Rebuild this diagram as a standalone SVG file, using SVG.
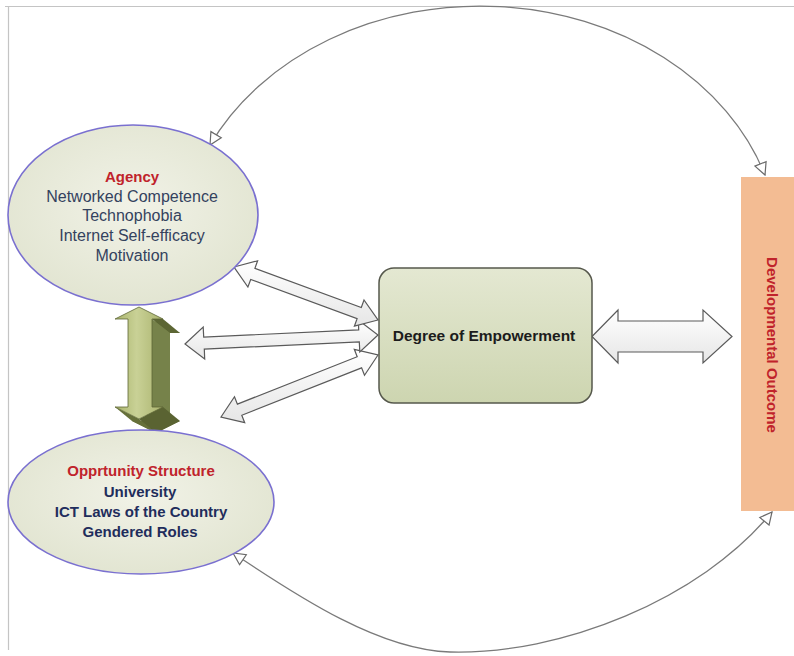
<svg xmlns="http://www.w3.org/2000/svg" width="794" height="656" viewBox="0 0 794 656">
<defs>
<style>
.ell{fill:url(#ellG);stroke:#7a70d0;stroke-width:1.6}
.wa{fill:url(#waG);stroke:#5a5a5a;stroke-width:1.2;stroke-linejoin:miter}
.arc{fill:none;stroke:#7a7a7a;stroke-width:1.3;marker-start:url(#hd);marker-end:url(#hd)}
.t{font-family:"Liberation Sans",Arial,sans-serif;text-anchor:middle}
.red{fill:#c0232b;font-weight:bold}
.ag{fill:#34425e;font-size:16px}
.op{fill:#1f2d5c;font-size:15px;font-weight:bold}
</style>
<radialGradient id="ellG" cx="50%" cy="45%" r="60%">
<stop offset="0" stop-color="#f1f2e7"/>
<stop offset="1" stop-color="#e1e4d0"/>
</radialGradient>
<linearGradient id="boxG" x1="0" y1="0" x2="0" y2="1">
<stop offset="0" stop-color="#e4e8d2"/>
<stop offset="1" stop-color="#cdd5b0"/>
</linearGradient>
<linearGradient id="waG" x1="0" y1="0" x2="0" y2="1">
<stop offset="0" stop-color="#ffffff"/>
<stop offset="1" stop-color="#e6e6e6"/>
</linearGradient>
<linearGradient id="vaG" x1="0" y1="0" x2="1" y2="0">
<stop offset="0" stop-color="#a9b46c"/>
<stop offset="0.45" stop-color="#c9d196"/>
<stop offset="1" stop-color="#aab36e"/>
</linearGradient>
<marker id="hd" viewBox="0 0 14 14" refX="13" refY="7" markerWidth="14" markerHeight="14" markerUnits="userSpaceOnUse" orient="auto-start-reverse">
<path d="M1,1 L13,7 L1,13 Z" fill="#ffffff" stroke="#6a6a6a" stroke-width="1.2"/>
</marker>
</defs>
<rect width="794" height="656" fill="#ffffff"/>
<path d="M5,6.5 H794 M8.5,6 V650" stroke="#c4c4c4" stroke-width="1.2" fill="none"/>

<g id="connectors">
<path class="arc" d="M210,145 A300 246 0 0 1 765,175"/>
<path class="arc" d="M233,553 C300,598 380,650 450,652 C560,655 700,600 772,512"/>
<polygon class="wa" points="221,417 234.5,396.7 237.4,404.1 357.2,356.7 354.3,349.3 378,355 364.5,375.3 361.6,367.9 241.8,415.3 244.7,422.7"/>
<polygon class="wa" points="185,344 203.2,327.1 203.7,337.1 358.7,329.9 358.3,319.9 378,335 359.8,351.9 359.3,341.9 204.3,349.1 204.7,359.1"/>
<polygon class="wa" points="234,267 257.6,260.8 254.9,268.3 361.3,307.5 364,300 378,320 354.4,326.2 357.1,318.7 250.7,279.5 247.9,287"/>
<polygon class="wa" points="592,336.5 618,310 618,321 703,321 703,310 732,336.5 703,363 703,352 618,352 618,363"/>
<g id="vertical-arrow">
<polygon fill="#66703a" points="156,321 180,333 170,333 170,421 180,421 156,433 132,421 146,421 146,333 132,333"/>
<polygon fill="#5c6634" points="163,319 180,333 170,333 152,319"/>
<polygon fill="#76824a" points="152,319 170,333 170,421 152,407"/>
<polygon fill="#5a6332" points="163,407 180,421 156,433 139,419"/>
<polygon fill="#66703a" points="139,419 156,433 132,421 115,407"/>
<polygon fill="url(#vaG)" stroke="#5d6636" stroke-width="0.8" points="139,307 163,319 152,319 152,407 163,407 139,419 115,407 128,407 128,319 115,319"/>
</g>
</g>

<g id="agency">
<ellipse class="ell" cx="133" cy="215" rx="125" ry="90"/>
<text class="t red" x="132" y="182" font-size="15">Agency</text>
<text class="t ag" x="132" y="202">Networked Competence</text>
<text class="t ag" x="132" y="221">Technophobia</text>
<text class="t ag" x="132" y="241">Internet Self-efficacy</text>
<text class="t ag" x="132" y="261">Motivation</text>
</g>

<g id="opportunity">
<ellipse class="ell" cx="141" cy="502" rx="133" ry="72"/>
<text class="t red" x="141" y="476" font-size="15">Opprtunity Structure</text>
<text class="t op" x="140" y="497">University</text>
<text class="t op" x="141" y="517">ICT Laws of the Country</text>
<text class="t op" x="140" y="537">Gendered Roles</text>
</g>

<g id="empowerment">
<rect x="379" y="268" width="213" height="135" rx="15" fill="url(#boxG)" stroke="#56584c" stroke-width="1.5"/>
<text class="t" x="484" y="341" font-size="15.5" font-weight="bold" fill="#1c1c1c">Degree of Empowerment</text>
</g>

<g id="outcome">
<rect x="741" y="177" width="60" height="334" fill="#f3bc93"/>
<text class="t red" x="0" y="0" font-size="15" transform="translate(767,345) rotate(90)">Developmental Outcome</text>
</g>
</svg>
